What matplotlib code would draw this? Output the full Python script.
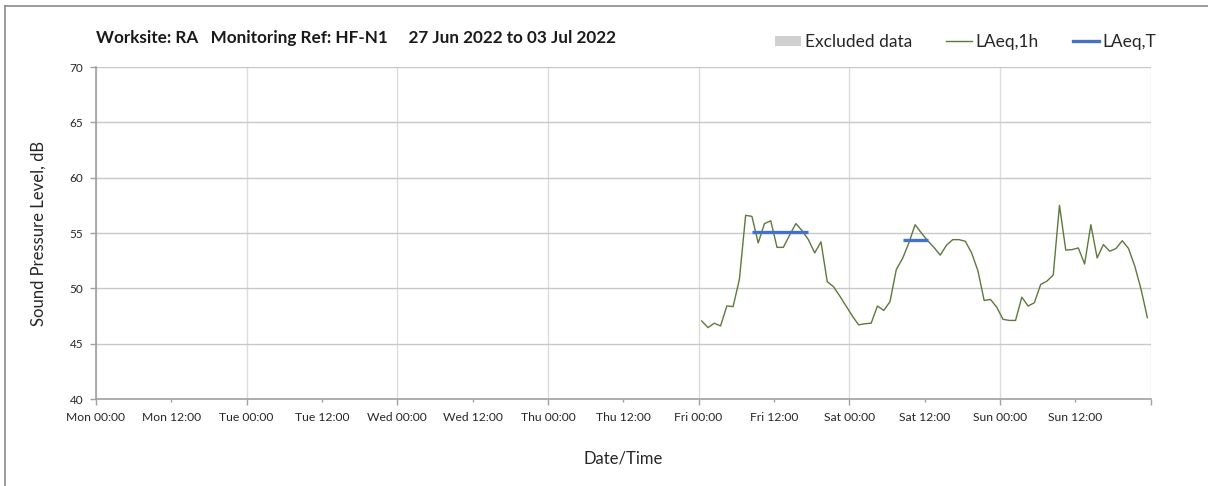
import matplotlib
matplotlib.use("Agg")
import matplotlib.pyplot as plt
import matplotlib.dates as mdates
from matplotlib.patches import Patch
from matplotlib.lines import Line2D
from matplotlib.ticker import FuncFormatter
import pandas as pd

# ---------------- data ----------------
title_text = "Worksite: RA   Monitoring Ref: HF-N1     27 Jun 2022 to 03 Jul 2022"
axis_start = "2022-06-27 00:00"
axis_end = "2022-07-04 00:00"
data_start = "2022-07-01 00:30"   # hourly values plotted at mid-hour

laeq_1h = [
    47.05, 46.45, 46.85, 46.6, 48.4, 48.35, 50.8, 56.6, 56.5, 54.1,
    55.85, 56.1, 53.7, 53.7, 54.8, 55.85, 55.2, 54.4, 53.2, 54.2,
    50.6, 50.15, 49.3, 48.4, 47.5, 46.7, 46.8, 46.85, 48.4, 48.0,
    48.8, 51.7, 52.7, 54.1, 55.75, 55.0, 54.3, 53.7, 53.0, 53.9,
    54.4, 54.4, 54.25, 53.2, 51.6, 48.9, 49.0, 48.3, 47.2, 47.1,
    47.1, 49.2, 48.4, 48.7, 50.35, 50.65, 51.2, 57.5, 53.45, 53.5,
    53.65, 52.2, 55.75, 52.75, 53.95, 53.35, 53.6, 54.3, 53.6, 52.0,
    49.9, 47.35,
]

laeq_t_start = ["2022-07-01 08:30", "2022-07-02 08:30"]
laeq_t_end = ["2022-07-01 17:30", "2022-07-02 12:30"]
laeq_t_value = [55.1, 54.4]

y_ticks = [40, 45, 50, 55, 60, 65, 70]

# ---------------- style ----------------
FONT = ["Lato", "DejaVu Sans"]
plt.rcParams["font.family"] = FONT
green = "#5b7a3c"
blue = "#4472c4"
txt = "#262626"

W, H = 1208, 486
fig = plt.figure(figsize=(W / 100, H / 100), dpi=100)
ax = fig.add_axes([96 / W, 1 - 399 / H, (1150.5 - 96) / W, (399 - 67) / H])

times = pd.date_range(data_start, periods=len(laeq_1h), freq="h")
ax.plot(times, laeq_1h, color=green, lw=1.0, label="LAeq,1h", zorder=3)

for s, e, v in zip(laeq_t_start, laeq_t_end, laeq_t_value):
    ax.plot([pd.Timestamp(s), pd.Timestamp(e)], [v, v], color=blue, lw=2.4,
            solid_capstyle="butt", zorder=4)

x_end = pd.Timestamp(axis_end)
ax.set_xlim(pd.Timestamp(axis_start), x_end)
ax.set_ylim(40, 70)
ax.set_yticks(y_ticks)

end_num = mdates.date2num(x_end)


def fmt_func(x, pos=None):
    if abs(x - end_num) < 1e-6:
        return ""
    return mdates.num2date(x).strftime("%a %H:%M")


ax.xaxis.set_major_locator(mdates.HourLocator(byhour=[0]))
ax.xaxis.set_minor_locator(mdates.HourLocator(byhour=[12]))
ax.xaxis.set_major_formatter(FuncFormatter(fmt_func))
ax.xaxis.set_minor_formatter(FuncFormatter(fmt_func))

ax.tick_params(axis="x", which="major", length=4, width=1, color="#a0a0a0",
               labelsize=8.7, labelcolor=txt, pad=5)
ax.tick_params(axis="x", which="minor", length=2.5, width=1, color="#a0a0a0",
               labelsize=8.7, labelcolor=txt, pad=6.5)
ax.tick_params(axis="y", length=4, width=1, color="#a0a0a0",
               labelsize=8.5, labelcolor=txt, pad=5)

ax.grid(axis="y", color="#c8c8c8", lw=1.0, zorder=0)
ax.grid(axis="x", which="major", color="#dcdcdc", lw=1.0, zorder=0)
ax.set_axisbelow(True)
for side in ["top", "right"]:
    ax.spines[side].set_visible(False)
for side in ["left", "bottom"]:
    ax.spines[side].set_color("#a0a0a0")
    ax.spines[side].set_linewidth(1.2)

ax.set_ylabel("Sound Pressure Level, dB", fontsize=12, color=txt, labelpad=17)
ax.set_xlabel("Date/Time", fontsize=12, color=txt, labelpad=20)

fig.text(96 / W, 1 - 38 / H, title_text, fontsize=12.3, fontweight="bold",
         color="#1a1a1a", ha="left", va="center")

handles = [
    Patch(facecolor="#d0d0d0", edgecolor="none"),
    Line2D([], [], color=green, lw=1.0),
    Line2D([], [], color=blue, lw=2.4),
]
labels = ["Excluded data", "LAeq,1h", "LAeq,T"]
fig.legend(handles, labels, ncol=3, loc="center left",
           bbox_to_anchor=(775 / W, 1 - 42 / H), frameon=False, fontsize=12.5,
           handlelength=1.5, handleheight=0.5, handletextpad=0.22,
           columnspacing=1.95, borderpad=0, borderaxespad=0, labelcolor=txt)

# chart-area border (top and left edges visible)
fig.add_artist(Line2D([4.5 / W, 4.5 / W], [0, 1 - 6 / H], color="#8a8a8a", lw=1.2,
                      transform=fig.transFigure))
fig.add_artist(Line2D([4.5 / W, 1], [1 - 6 / H, 1 - 6 / H], color="#8a8a8a", lw=1.2,
                      transform=fig.transFigure))

fig.savefig("out.png", dpi=100)
